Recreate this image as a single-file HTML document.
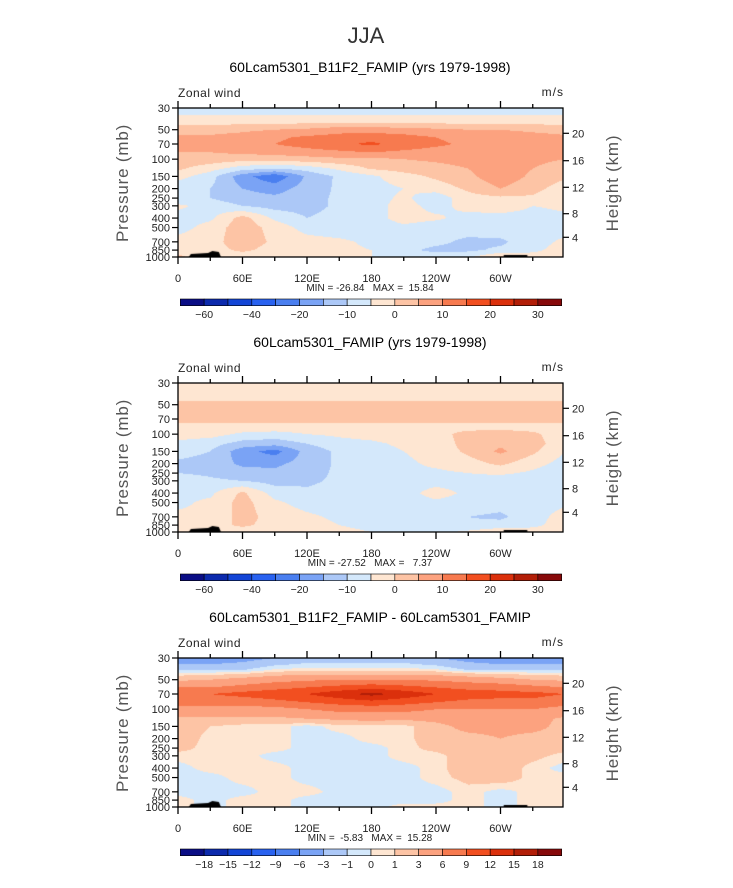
<!DOCTYPE html>
<html><head><meta charset="utf-8"><style>
html,body{margin:0;padding:0;background:#fff;width:733px;height:888px;overflow:hidden;font-family:"Liberation Sans",sans-serif}
#wrap{position:relative;width:733px;height:888px}
canvas{position:absolute}
svg{position:absolute;left:0;top:0}
</style></head><body>
<div id="wrap">
<canvas id="c0" width="385" height="149" style="left:178px;top:108px"></canvas>
<canvas id="c1" width="385" height="149" style="left:178px;top:383px"></canvas>
<canvas id="c2" width="385" height="149" style="left:178px;top:658px"></canvas>
<svg id="ov" width="733" height="888"></svg>
</div>
<script>
const lons=[0,30,60,90,120,150,180,210,240,270,300,330,360];
const plevs=[30,40,50,60,70,85,100,125,150,200,250,300,400,500,700,850,1000];
const field1=[
[-8,-8,-8,-8,-8,-8,-8,-8,-8,-8,-8,-8,-8],
[-3,-3,-3,-3,-3,-3,-3,-3,-3,-3,-3,-3,-3],
[3,3,4,5,6,8,8,7,6,5,5,4,3],
[6,6,7,9,11,12,13,12,10,8,8,7,6],
[7,7,8,10,12,14,16,13,11,9,9,8,7],
[5,5,6,7,8,9,10,9,8,8,8,7,6],
[3,3,2,2,3,4,4,5,6,7,8,6,5],
[1,-3,-8,-10,-8,-4,0.5,2,3,5,8,5,3],
[-3,-8,-18,-24,-14,-9,-6,-2,1,4,8,4,1],
[-9,-10,-15,-17,-13,-9,-7,-5,-3,1,5,2,-3],
[-9,-10,-13,-14,-12,-9,-7,-4,-8,-2,-1,-1,-5],
[-4,-7,-10,-12,-12,-9,-7,-3,-7,-3,-2,-5,-4],
[-7,-6,2,-6,-10,-8,-7,-3,-4,-7,-7,-7,-6],
[-7,-3,3,-2,-7,-8,-8,-6,-8,-8,-7,-7,-7],
[-3,-2,3,-1,-3,-4,-6,-8,-9,-11,-11,-7,-4],
[-2,-2,1,-2,-3,-4,-5,-9,-11,-11,-9,-6,-3],
[1,-3,-3,-4,-4,-4,-5,-7,-8,-6,1,-3,-2]];
const field2=[
[-3,-3,-3,-3,-3,-3,-3,-3,-3,-3,-3,-3,-3],
[-3,-3,-3,-3,-3,-3,-3,-3,-3,-3,-3,-3,-3],
[2,2,2,2,2,2,2,2,2,2,2,2,2],
[2,2,2,2,2,2,2,2,2,2,2,2,2],
[2,2,2,2,2,2,2,2,2,2,2,2,2],
[-2,-2,-2,-2,-2,-2,-2,-2,-2,-2,-2,-2,-2],
[-3,-3,-6,-7,-5,-4,-3,-2,-2,2,3,1,-3],
[-6,-8,-12,-13,-10,-7,-6,-4,-3,2,4,2,-3],
[-8,-10,-18,-22,-13,-9,-7,-5,-3,1,6,1,-5],
[-11,-12,-16,-16,-13,-9,-7,-6,-4,-2,1,-3,-7],
[-10,-11,-13,-14,-12,-9,-7,-6,-6,-5,-4,-6,-9],
[-7,-9,-10,-12,-11,-9,-7,-7,-7,-7,-8,-9,-8],
[-6,-6,1,-7,-9,-8,-7,-7,-3,-6,-7,-7,-7],
[-6,-4,2,-4,-7,-8,-7,-7,-6,-7,-8,-7,-6],
[-4,-4,2,-2,-4,-6,-7,-7,-8,-10,-11,-7,-3],
[-2,-2,1,-2,-3,-5,-6,-8,-10,-9,-8,-6,-3],
[-1,-3,-3,-4,-4,-4,-5,-7,-6,-4,-1,-3,-2]];
const field3=[
[-5,-5,-4,-3,-2,-2,-2,-2,-3,-4,-5,-5,-5],
[-1,-1,-1,0.3,0.5,0.5,0.5,0.5,0.3,-1,-1,-1,-1],
[2.5,3,4,5,5.5,6,6,6,5.5,5,4,3,2.5],
[6,6,7,8,9,10,11,10,9,8,8,7,6],
[9,9,10,11,12,14,16,14,12,11,10,10,9],
[7,7,7,8,9,10,11,10,9,8,8,8,7],
[5,5,5,5,6,7,7,7,6,6,6,6,5],
[2.5,2.5,2.5,2.5,3,3.5,4,3.5,4,5,5,4,2.5],
[2,1,0.5,0.5,-0.5,0.5,0.5,0.5,2,4,4,4,2],
[2,0.5,0.5,0.5,-0.5,-0.5,0.5,0.5,2,2,3,2,2],
[1.5,0.5,0.5,0.5,-0.5,-0.5,-0.5,0.5,1.5,2,2,2,1.5],
[0.5,0.5,0.5,-0.5,-0.5,-0.5,-0.5,0.5,0.5,2,2,1.5,0.5],
[-0.5,0.5,0.5,0.5,-0.5,-0.5,-0.5,-0.5,0.5,2,2,0.5,-0.5],
[-0.5,-0.5,0.5,0.5,-0.5,-0.5,-0.5,-0.5,0.5,1.5,2,0.5,0.5],
[-0.5,-0.5,-0.5,0.5,0.5,-0.5,-0.5,-0.5,-0.5,0.5,-0.5,0.5,0.5],
[0.5,-0.5,0.5,0.5,-0.5,-0.5,-0.5,-0.5,-0.5,0.5,-0.5,0.5,0.5],
[0.5,-0.5,0.5,0.5,-0.5,-0.5,-0.5,0.5,0.5,0.5,-0.5,0.5,0.5]];
const levelsAbs=[-60,-50,-40,-30,-20,-15,-10,-5,0,5,10,15,20,25,30];
const levelsDiff=[-18,-15,-12,-9,-6,-3,-1,0,1,3,6,9,12,15,18];
const labelsAbs=["-60","-40","-20","-10","0","10","20","30"];
const labelIdxAbs=[1,3,5,7,9,11,13,15];
const labelsDiff=["-18","-15","-12","-9","-6","-3","-1","0","1","3","6","9","12","15","18"];
const titles=["60Lcam5301_B11F2_FAMIP (yrs 1979-1998)","60Lcam5301_FAMIP (yrs 1979-1998)","60Lcam5301_B11F2_FAMIP - 60Lcam5301_FAMIP"];
const minmax=["MIN = -26.84   MAX =  15.84","MIN = -27.52   MAX =   7.37","MIN =  -5.83   MAX =  15.28"];
const pTicks=[30,50,70,100,150,200,250,300,400,500,700,850,1000];
const kmTicks=["4","8","12","16","20"];
const kmFrac=[129.3,105.7,79.3,52.7,25.3];
const xTickLabels=["0","60E","120E","180","120W","60W"];
const colors=["#0a0d85","#0c2aad","#1345d6","#2962f0","#4a7ff0","#7aa3f5","#acc8f7","#d4e8fb","#fee6d2","#fdc4a5","#fca27f","#f77a4f","#f24f20","#db300c","#b21e07","#87090a"];

const W=385,H=149,X0=178,PXDEG=64.5/60;
const tops=[108,383,658];
const lp0=Math.log10(30),lp1=Math.log10(1000);
function yOfP(p){return (Math.log10(p)-lp0)/(lp1-lp0)*H;}
function xOfLon(l){return l*PXDEG;}
function hexRGB(h){return [parseInt(h.slice(1,3),16),parseInt(h.slice(3,5),16),parseInt(h.slice(5,7),16)];}
const rgb=colors.map(hexRGB);
function sample(f,lon,p){
  let i=Math.min(lons.length-2,Math.max(0,Math.floor(lon/30)));let tx=(lon-lons[i])/30;tx=Math.max(0,Math.min(1,tx));
  const lp=Math.log10(p);let j=0;while(j<plevs.length-2&&Math.log10(plevs[j+1])<lp)j++;
  let ty=(lp-Math.log10(plevs[j]))/(Math.log10(plevs[j+1])-Math.log10(plevs[j]));ty=Math.max(0,Math.min(1,ty));
  const a=f[j][i]*(1-tx)+f[j][i+1]*tx,b=f[j+1][i]*(1-tx)+f[j+1][i+1]*tx;return a*(1-ty)+b*ty;}
function bin(v,lv){let k=0;while(k<lv.length&&v>=lv[k])k++;return k;}
function draw(id,f,lv){
  const c=document.getElementById(id),ctx=c.getContext('2d'),img=ctx.createImageData(W,H);
  for(let y=0;y<H;y++){const p=Math.pow(10,lp0+(y+0.5)/H*(lp1-lp0));
    for(let x=0;x<W;x++){const lon=(x+0.5)/PXDEG;const k=bin(sample(f,lon,p),lv);const o=(y*W+x)*4;
      img.data[o]=rgb[k][0];img.data[o+1]=rgb[k][1];img.data[o+2]=rgb[k][2];img.data[o+3]=255;}}
  ctx.putImageData(img,0,0);
  ctx.fillStyle='#000';
  ctx.beginPath();ctx.moveTo(xOfLon(10),H);ctx.lineTo(xOfLon(12),H-3);ctx.lineTo(xOfLon(28),H-4);ctx.lineTo(xOfLon(32),H-6);ctx.lineTo(xOfLon(38),H-5);ctx.lineTo(xOfLon(40),H);ctx.fill();
  ctx.fillRect(xOfLon(303),H-2,xOfLon(22),2);
}
draw('c0',field1,levelsAbs);draw('c1',field2,levelsAbs);draw('c2',field3,levelsDiff);

const NS='http://www.w3.org/2000/svg',sv=document.getElementById('ov');
function el(tag,attrs,txt,parent){const e=document.createElementNS(NS,tag);for(const k in attrs)e.setAttribute(k,attrs[k]);if(txt!==undefined)e.textContent=txt;(parent||sv).appendChild(e);return e;}
let t=el('text',{x:366,y:43,'font-size':22,'text-anchor':'middle',fill:'#333','font-weight':'300'},'JJA');


tops.forEach((T,n)=>{
  const g=el('g',{});
  
  
  let e=el('text',{x:370,y:T-36,'font-size':14,'text-anchor':'middle',fill:'#000'},titles[n],g);
  
  
  e=el('text',{x:178,y:T-11,'font-size':12,fill:'#222','letter-spacing':'0.5'},'Zonal wind',g);
  
  
  e=el('text',{x:564,y:T-12,'font-size':12,'text-anchor':'end',fill:'#222','letter-spacing':'1'},'m/s',g);
  
  
  e=el('rect',{x:X0,y:T,width:W,height:H,fill:'none',stroke:'#000','stroke-width':1.3},undefined,g);
  
  
  for(let l=0;l<=330;l+=30){const x=X0+xOfLon(l),len=l%60===0?7:4;
    el('line',{x1:x,y1:T,x2:x,y2:T-len,stroke:'#000','stroke-width':1.3},undefined,g);
    el('line',{x1:x,y1:T+H,x2:x,y2:T+H+len,stroke:'#000','stroke-width':1.3},undefined,g);}
  xTickLabels.forEach((s,i)=>{e=el('text',{x:X0+xOfLon(i*60),y:T+H+25,'font-size':11,'text-anchor':'middle',fill:'#222'},s,g);
    
    });
  pTicks.forEach(p=>{const y=T+yOfP(p);el('line',{x1:X0,y1:y,x2:X0-6,y2:y,stroke:'#000','stroke-width':1.2},undefined,g);
    e=el('text',{x:X0-8,y:y+4,'font-size':11,'text-anchor':'end',fill:'#222'},String(p),g);
    
    });
  kmTicks.forEach((s,i)=>{const y=T+kmFrac[i];el('line',{x1:X0+W,y1:y,x2:X0+W+6,y2:y,stroke:'#000','stroke-width':1.2},undefined,g);
    e=el('text',{x:X0+W+9,y:y+4,'font-size':11,fill:'#222'},s,g);
    
    });
  e=el('text',{x:0,y:0,'font-size':17,'text-anchor':'middle',fill:'#555','letter-spacing':'0.8',transform:`translate(128,${T+75}) rotate(-90)`},'Pressure (mb)',g);
  
  
  e=el('text',{x:0,y:0,'font-size':17,'text-anchor':'middle',fill:'#555','letter-spacing':'0.8',transform:`translate(618,${T+75}) rotate(-90)`},'Height (km)',g);
  
  
  e=el('text',{x:370,y:T+H+34,'font-size':10,'text-anchor':'middle',fill:'#222',style:'white-space:pre'},minmax[n],g);
  
  
  const cy=T+191,cx0=180.3,cw=(561.7-180.3)/16;
  colors.forEach((c,k)=>{e=el('rect',{x:cx0+k*cw,y:cy,width:cw,height:6.7,fill:c,stroke:'#000','stroke-width':0.6},undefined,g);
    
    });
  const labs=n<2?labelsAbs:labelsDiff;
  labs.forEach((s,i)=>{const bi=n<2?labelIdxAbs[i]:i+1;
    e=el('text',{x:cx0+bi*cw,y:cy+19,'font-size':10.5,'text-anchor':'middle',fill:'#222'},s.replace('-','\u2212'),g);
    
    });
});
</script>
</body></html>
